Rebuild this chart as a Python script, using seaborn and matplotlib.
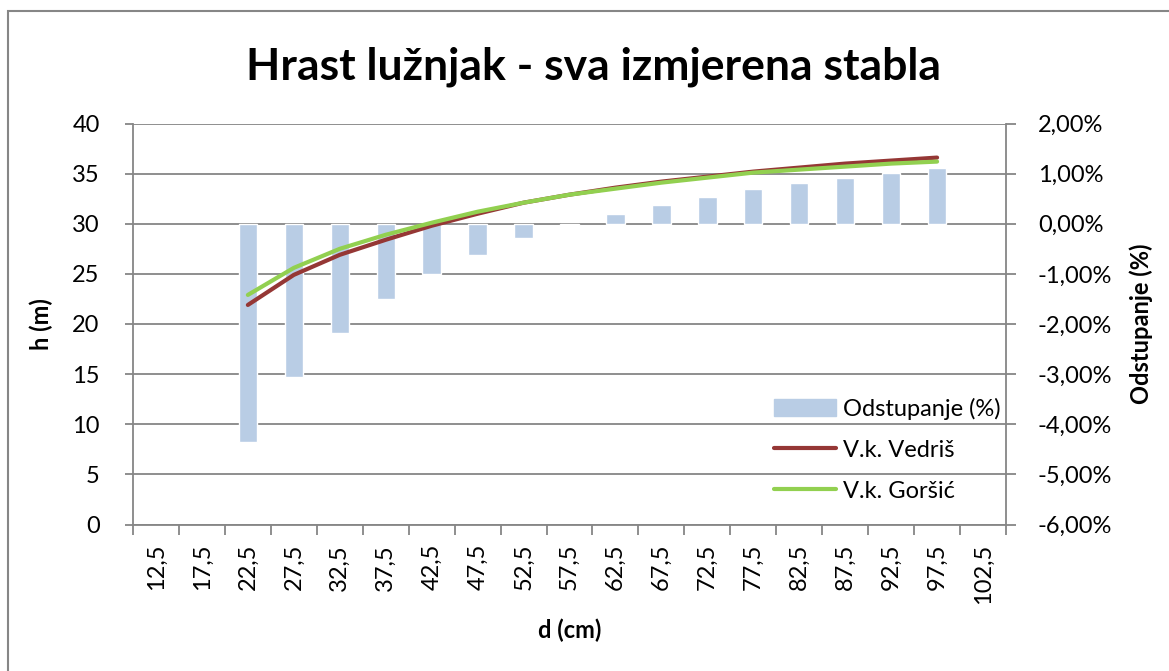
import matplotlib
matplotlib.use("Agg")
import matplotlib.pyplot as plt
import matplotlib.patches as mpatches
from matplotlib.lines import Line2D
from matplotlib.ticker import FuncFormatter
import pandas as pd
import seaborn as sns

# d (cm) categories on the x axis
categories = ["12,5", "17,5", "22,5", "27,5", "32,5", "37,5", "42,5", "47,5", "52,5",
              "57,5", "62,5", "67,5", "72,5", "77,5", "82,5", "87,5", "92,5", "97,5", "102,5"]
# classes that have data
d_data = ["22,5", "27,5", "32,5", "37,5", "42,5", "47,5", "52,5", "57,5",
          "62,5", "67,5", "72,5", "77,5", "82,5", "87,5", "92,5", "97,5"]
odstupanje = [-4.36, -3.06, -2.17, -1.51, -1.01, -0.62, -0.29, -0.03,
              0.19, 0.38, 0.54, 0.69, 0.81, 0.91, 1.01, 1.11]
vedris = [21.9, 24.9, 26.9, 28.4, 29.8, 31.0, 32.1, 32.9,
          33.6, 34.2, 34.7, 35.2, 35.6, 36.0, 36.3, 36.6]
gorsic = [22.9, 25.6, 27.5, 28.9, 30.1, 31.2, 32.1, 32.9,
          33.5, 34.1, 34.6, 35.1, 35.4, 35.7, 36.0, 36.2]

BAR_C = "#B9CDE5"
RED_C = "#953735"
GREEN_C = "#92D050"
GRID_C = "#868686"
FONT = "Lato"
LW = 3.0

sns.set_theme(style="white")
plt.rcParams["font.family"] = [FONT, "DejaVu Sans"]
plt.rcParams["text.color"] = "black"
plt.rcParams["axes.labelcolor"] = "black"

df = pd.DataFrame({"d": d_data, "odst": odstupanje, "vedris": vedris, "gorsic": gorsic})
df["pos"] = [categories.index(c) for c in d_data]

fig = plt.figure(figsize=(11.69, 6.71), dpi=100)
ax = fig.add_axes([133 / 1169, 1 - 524.5 / 671, 873 / 1169, 401 / 671])
ax2 = ax.twinx()

# bars on the secondary (right) axis
sns.barplot(data=df, x="d", y="odst", order=categories, color=BAR_C, width=0.4,
            saturation=1, ax=ax2, zorder=2)
ax2.set_ylim(-6, 2)
ax2.set_yticks(range(-6, 3))
ax2.yaxis.set_major_formatter(FuncFormatter(lambda v, p: f"{v:.2f}".replace(".", ",") + "%"))
ax2.grid(axis="y", color=GRID_C, linewidth=1.3)
ax2.set_axisbelow(True)
ax2.set_ylabel("Odstupanje (%)", fontsize=17, fontweight="bold", labelpad=12)

# lines on the primary (left) axis, drawn above the bars
ax.set_zorder(ax2.get_zorder() + 1)
ax.patch.set_visible(False)
sns.lineplot(data=df, x="pos", y="vedris", color=RED_C, linewidth=LW, ax=ax)
sns.lineplot(data=df, x="pos", y="gorsic", color=GREEN_C, linewidth=LW, ax=ax)
ax.set_ylim(0, 40)
ax.set_yticks(range(0, 41, 5))
ax.set_xlim(-0.5, len(categories) - 0.5)
ax2.set_xlim(-0.5, len(categories) - 0.5)
ax.set_xticks(range(len(categories)))
ax.set_xticklabels(categories, rotation=90)
ax.set_xticks([i - 0.5 for i in range(len(categories) + 1)], minor=True)
ax.set_ylabel("h (m)", fontsize=17, fontweight="bold", labelpad=14)
ax.set_xlabel("d (cm)", fontsize=17, fontweight="bold", labelpad=10)

for a in (ax, ax2):
    for s in a.spines.values():
        s.set_visible(False)
ax.spines["left"].set_visible(True)
ax.spines["bottom"].set_visible(True)
ax2.spines["right"].set_visible(True)
for s in (ax.spines["left"], ax.spines["bottom"], ax2.spines["right"]):
    s.set_color(GRID_C)
    s.set_linewidth(1.3)

ax.tick_params(axis="y", which="major", direction="out", length=6, width=1.3,
               color=GRID_C, labelcolor="black", labelsize=17, pad=18, left=True)
ax.tick_params(axis="x", which="major", length=0, labelcolor="black", labelsize=17, pad=14)
ax.tick_params(axis="x", which="minor", direction="out", length=7, width=1.3,
               color=GRID_C, bottom=True)
ax2.tick_params(axis="y", direction="out", length=7, width=1.3, color=GRID_C,
                labelcolor="black", labelsize=17, pad=16, right=True)
ax2.tick_params(axis="x", length=0, labelbottom=False)
ax2.set_xlabel("")

fig.suptitle("Hrast lužnjak - sva izmjerena stabla", fontsize=32, fontweight="bold",
             color="black", x=594 / 1169, y=1 - 67 / 671, va="center")

handles = [mpatches.Patch(color=BAR_C, label="Odstupanje (%)"),
           Line2D([], [], color=RED_C, linewidth=LW, label="V.k. Vedriš"),
           Line2D([], [], color=GREEN_C, linewidth=LW, label="V.k. Goršić")]
fig.legend(handles=handles, loc="upper left", bbox_to_anchor=(765 / 1169, 1 - 388 / 671),
           frameon=False, fontsize=17, labelspacing=0.85, handlelength=2.6,
           handletextpad=0.3, borderaxespad=0)

# outer chart border
fig.patches.append(mpatches.Rectangle((8 / 1169, -0.1), 1.2, 1.1 - 11 / 671,
                                      transform=fig.transFigure, fill=False,
                                      edgecolor=GRID_C, linewidth=1.5))

fig.savefig("out.png", dpi=100)
